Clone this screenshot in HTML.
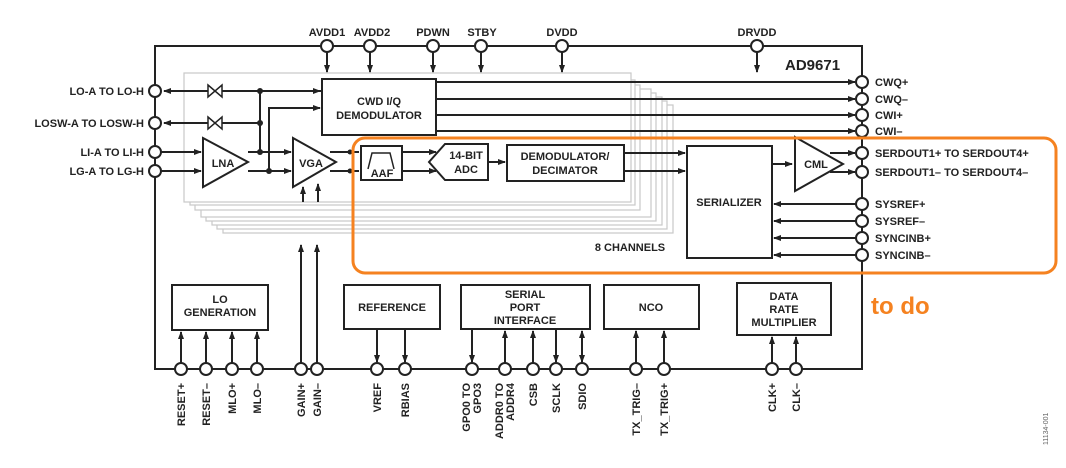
<!DOCTYPE html>
<html><head><meta charset="utf-8"><style>
html,body{margin:0;padding:0;background:#fff;}
svg{display:block;}
text{font-family:"Liberation Sans",Arial,sans-serif;font-weight:bold;font-size:11px;fill:#222;}
</style></head><body>
<svg width="1066" height="468" viewBox="0 0 1066 468" xmlns="http://www.w3.org/2000/svg">
<defs>
<marker id="a" markerWidth="8" markerHeight="6" refX="7" refY="3" orient="auto" markerUnits="userSpaceOnUse"><path d="M0,0 L8,3 L0,6 z" fill="#222"/></marker>
</defs>
<!-- stacked channel boxes -->
<g fill="#fff" stroke="#c8c8c8" stroke-width="1.2">
<rect x="223" y="105" width="450" height="128"/>
<rect x="217" y="101" width="450" height="128"/>
<rect x="212" y="97" width="450" height="128"/>
<rect x="206" y="93" width="450" height="128"/>
<rect x="201" y="89" width="450" height="128"/>
<rect x="195" y="85" width="445" height="125"/>
<rect x="190" y="80" width="445" height="125"/>
<rect x="184" y="73" width="447" height="129"/>
</g>
<g stroke="#222" stroke-width="2" fill="none">
<!-- outer -->
<polyline points="862,175 862,46 155,46 155,369 862,369 862,258"/>
<line x1="862" y1="175" x2="862" y2="258"/>
</g>
<!-- top pins -->
<g stroke="#222" stroke-width="2">
<line x1="327" y1="52" x2="327" y2="72" marker-end="url(#a)"/>
<line x1="370" y1="52" x2="370" y2="72" marker-end="url(#a)"/>
<line x1="433" y1="52" x2="433" y2="72" marker-end="url(#a)"/>
<line x1="481" y1="52" x2="481" y2="72" marker-end="url(#a)"/>
<line x1="562" y1="52" x2="562" y2="72" marker-end="url(#a)"/>
<line x1="757" y1="52" x2="757" y2="72" marker-end="url(#a)"/>
</g>
<text x="327" y="36" text-anchor="middle">AVDD1</text>
<text x="372" y="36" text-anchor="middle">AVDD2</text>
<text x="433" y="36" text-anchor="middle">PDWN</text>
<text x="482" y="36" text-anchor="middle">STBY</text>
<text x="562" y="36" text-anchor="middle">DVDD</text>
<text x="757" y="36" text-anchor="middle">DRVDD</text>
<text x="785" y="70" style="font-size:15px">AD9671</text>
<!-- left signals -->
<g stroke="#222" stroke-width="2" fill="none">
<line x1="322" y1="91" x2="164" y2="91" marker-end="url(#a)"/>
<line x1="260" y1="123" x2="164" y2="123" marker-end="url(#a)"/>
<line x1="260" y1="91" x2="260" y2="152"/>
<line x1="261" y1="91" x2="320" y2="91" marker-end="url(#a)"/>
<polyline points="269,171 269,108 320,108" marker-end="url(#a)"/>
<line x1="161" y1="152" x2="201" y2="152" marker-end="url(#a)"/>
<line x1="161" y1="171" x2="201" y2="171" marker-end="url(#a)"/>
<line x1="248" y1="152" x2="291" y2="152" marker-end="url(#a)"/>
<line x1="248" y1="171" x2="291" y2="171" marker-end="url(#a)"/>
<line x1="330" y1="152" x2="359" y2="152"/>
<line x1="330" y1="171" x2="359" y2="171"/>
<line x1="402" y1="152" x2="436" y2="152" marker-end="url(#a)"/>
<line x1="402" y1="171" x2="436" y2="171" marker-end="url(#a)"/>
<line x1="488" y1="162" x2="505" y2="162" marker-end="url(#a)"/>
<line x1="624" y1="153" x2="685" y2="153" marker-end="url(#a)"/>
<line x1="624" y1="171" x2="685" y2="171" marker-end="url(#a)"/>
<line x1="772" y1="164" x2="792" y2="164" marker-end="url(#a)"/>
<line x1="830" y1="153" x2="855" y2="153" marker-end="url(#a)"/>
<line x1="830" y1="172" x2="855" y2="172" marker-end="url(#a)"/>
<line x1="436" y1="82" x2="855" y2="82" marker-end="url(#a)"/>
<line x1="436" y1="99" x2="855" y2="99" marker-end="url(#a)"/>
<line x1="436" y1="115" x2="855" y2="115" marker-end="url(#a)"/>
<line x1="436" y1="131" x2="855" y2="131" marker-end="url(#a)"/>
<line x1="856" y1="204" x2="774" y2="204" marker-end="url(#a)"/>
<line x1="856" y1="221" x2="774" y2="221" marker-end="url(#a)"/>
<line x1="856" y1="238" x2="774" y2="238" marker-end="url(#a)"/>
<line x1="856" y1="255" x2="774" y2="255" marker-end="url(#a)"/>
<!-- gain lines -->
<line x1="301" y1="369" x2="301" y2="245" marker-end="url(#a)"/>
<line x1="317" y1="369" x2="317" y2="245" marker-end="url(#a)"/>
<line x1="303" y1="202" x2="303" y2="187" marker-end="url(#a)"/>
<line x1="318" y1="202" x2="318" y2="184" marker-end="url(#a)"/>
</g>
<g fill="#222"><circle cx="260" cy="91" r="3"/><circle cx="260" cy="123" r="3"/><circle cx="260" cy="152" r="3"/><circle cx="269" cy="171" r="3"/><circle cx="350" cy="152" r="2.5"/><circle cx="350" cy="171" r="2.5"/></g>
<!-- bowties -->
<g stroke="#222" stroke-width="1.5" fill="#fff">
<path d="M208,85 L222,97 L222,85 L208,97 z"/>
<path d="M208,117 L222,129 L222,117 L208,129 z"/>
</g>
<!-- blocks -->
<g stroke="#222" stroke-width="2" fill="#fff">
<rect x="322" y="79" width="114" height="56"/>
<polygon points="203,138 248,162 203,187"/>
<polygon points="293,138 336,162 293,187"/>
<rect x="361" y="146" width="41" height="34"/>
<polygon points="429,162 445,144 488,144 488,180 445,180"/>
<rect x="507" y="145" width="117" height="36"/>
<rect x="687" y="146" width="85" height="112"/>
<polygon points="795,137 843,164 795,191"/>
<rect x="172" y="285" width="96" height="45"/>
<rect x="344" y="285" width="96" height="44"/>
<rect x="461" y="285" width="129" height="44"/>
<rect x="604" y="285" width="95" height="44"/>
<rect x="737" y="283" width="94" height="52"/>
</g>
<path d="M368,169 L372,153 L390,153 L394,169" stroke="#222" stroke-width="1.5" fill="none"/>
<text x="379" y="60" text-anchor="middle" dy="0"> </text>
<text x="379" y="105" text-anchor="middle">CWD I/Q</text>
<text x="379" y="119" text-anchor="middle">DEMODULATOR</text>
<text x="223" y="167" text-anchor="middle">LNA</text>
<text x="311" y="167" text-anchor="middle">VGA</text>
<text x="382" y="177" text-anchor="middle">AAF</text>
<text x="466" y="159" text-anchor="middle">14-BIT</text>
<text x="466" y="173" text-anchor="middle">ADC</text>
<text x="565" y="160" text-anchor="middle">DEMODULATOR/</text>
<text x="565" y="174" text-anchor="middle">DECIMATOR</text>
<text x="729" y="206" text-anchor="middle">SERIALIZER</text>
<text x="816" y="168" text-anchor="middle">CML</text>
<text x="630" y="251" text-anchor="middle">8 CHANNELS</text>
<text x="220" y="303" text-anchor="middle">LO</text>
<text x="220" y="316" text-anchor="middle">GENERATION</text>
<text x="392" y="311" text-anchor="middle">REFERENCE</text>
<text x="525" y="298" text-anchor="middle">SERIAL</text>
<text x="525" y="311" text-anchor="middle">PORT</text>
<text x="525" y="324" text-anchor="middle">INTERFACE</text>
<text x="651" y="311" text-anchor="middle">NCO</text>
<text x="784" y="300" text-anchor="middle">DATA</text>
<text x="784" y="313" text-anchor="middle">RATE</text>
<text x="784" y="326" text-anchor="middle">MULTIPLIER</text>
<!-- left labels -->
<text x="144" y="95" text-anchor="end">LO-A TO LO-H</text>
<text x="144" y="127" text-anchor="end">LOSW-A TO LOSW-H</text>
<text x="144" y="156" text-anchor="end">LI-A TO LI-H</text>
<text x="144" y="175" text-anchor="end">LG-A  TO LG-H</text>
<!-- right labels -->
<text x="875" y="86">CWQ+</text>
<text x="875" y="103">CWQ–</text>
<text x="875" y="119">CWI+</text>
<text x="875" y="135">CWI–</text>
<text x="875" y="157">SERDOUT1+ TO SERDOUT4+</text>
<text x="875" y="176">SERDOUT1– TO SERDOUT4–</text>
<text x="875" y="208">SYSREF+</text>
<text x="875" y="225">SYSREF–</text>
<text x="875" y="242">SYNCINB+</text>
<text x="875" y="259">SYNCINB–</text>
<!-- bottom arrows -->
<g stroke="#222" stroke-width="2">
<line x1="181" y1="363" x2="181" y2="332" marker-end="url(#a)"/>
<line x1="206" y1="363" x2="206" y2="332" marker-end="url(#a)"/>
<line x1="232" y1="363" x2="232" y2="332" marker-end="url(#a)"/>
<line x1="257" y1="363" x2="257" y2="332" marker-end="url(#a)"/>
<line x1="377" y1="329" x2="377" y2="362" marker-end="url(#a)"/>
<line x1="405" y1="329" x2="405" y2="362" marker-end="url(#a)"/>
<line x1="472" y1="329" x2="472" y2="362" marker-end="url(#a)"/>
<line x1="505" y1="363" x2="505" y2="331" marker-end="url(#a)"/>
<line x1="533" y1="363" x2="533" y2="331" marker-end="url(#a)"/>
<line x1="556" y1="329" x2="556" y2="362" marker-end="url(#a)"/>
<line x1="582" y1="346" x2="582" y2="362" marker-end="url(#a)"/>
<line x1="582" y1="346" x2="582" y2="331" marker-end="url(#a)"/>
<line x1="636" y1="363" x2="636" y2="331" marker-end="url(#a)"/>
<line x1="664" y1="363" x2="664" y2="331" marker-end="url(#a)"/>
<line x1="772" y1="363" x2="772" y2="337" marker-end="url(#a)"/>
<line x1="796" y1="363" x2="796" y2="337" marker-end="url(#a)"/>
</g>
<!-- pin circles -->
<g stroke="#222" stroke-width="2" fill="#fff">
<circle cx="327" cy="46" r="6"/><circle cx="370" cy="46" r="6"/><circle cx="433" cy="46" r="6"/><circle cx="481" cy="46" r="6"/><circle cx="562" cy="46" r="6"/><circle cx="757" cy="46" r="6"/>
<circle cx="155" cy="91" r="6"/><circle cx="155" cy="123" r="6"/><circle cx="155" cy="152" r="6"/><circle cx="155" cy="171" r="6"/>
<circle cx="862" cy="82" r="6"/><circle cx="862" cy="99" r="6"/><circle cx="862" cy="115" r="6"/><circle cx="862" cy="131" r="6"/><circle cx="862" cy="153" r="6"/><circle cx="862" cy="172" r="6"/><circle cx="862" cy="204" r="6"/><circle cx="862" cy="221" r="6"/><circle cx="862" cy="238" r="6"/><circle cx="862" cy="255" r="6"/>
<circle cx="181" cy="369" r="6"/><circle cx="206" cy="369" r="6"/><circle cx="232" cy="369" r="6"/><circle cx="257" cy="369" r="6"/><circle cx="301" cy="369" r="6"/><circle cx="317" cy="369" r="6"/><circle cx="377" cy="369" r="6"/><circle cx="405" cy="369" r="6"/><circle cx="472" cy="369" r="6"/><circle cx="505" cy="369" r="6"/><circle cx="533" cy="369" r="6"/><circle cx="556" cy="369" r="6"/><circle cx="582" cy="369" r="6"/><circle cx="636" cy="369" r="6"/><circle cx="664" cy="369" r="6"/><circle cx="772" cy="369" r="6"/><circle cx="796" cy="369" r="6"/>
</g>
<!-- bottom labels -->
<g>
<text transform="translate(185,383) rotate(-90)" text-anchor="end">RESET+</text>
<text transform="translate(210,383) rotate(-90)" text-anchor="end">RESET–</text>
<text transform="translate(236,383) rotate(-90)" text-anchor="end">MLO+</text>
<text transform="translate(261,383) rotate(-90)" text-anchor="end">MLO–</text>
<text transform="translate(305,383) rotate(-90)" text-anchor="end">GAIN+</text>
<text transform="translate(321,383) rotate(-90)" text-anchor="end">GAIN–</text>
<text transform="translate(381,383) rotate(-90)" text-anchor="end">VREF</text>
<text transform="translate(409,383) rotate(-90)" text-anchor="end">RBIAS</text>
<text transform="translate(470,383) rotate(-90)" text-anchor="end">GPO0 TO</text>
<text transform="translate(481,383) rotate(-90)" text-anchor="end">GPO3</text>
<text transform="translate(503,383) rotate(-90)" text-anchor="end">ADDR0 TO</text>
<text transform="translate(514,383) rotate(-90)" text-anchor="end">ADDR4</text>
<text transform="translate(537,383) rotate(-90)" text-anchor="end">CSB</text>
<text transform="translate(560,383) rotate(-90)" text-anchor="end">SCLK</text>
<text transform="translate(586,383) rotate(-90)" text-anchor="end">SDIO</text>
<text transform="translate(640,383) rotate(-90)" text-anchor="end">TX_TRIG–</text>
<text transform="translate(668,383) rotate(-90)" text-anchor="end">TX_TRIG+</text>
<text transform="translate(776,383) rotate(-90)" text-anchor="end">CLK+</text>
<text transform="translate(800,383) rotate(-90)" text-anchor="end">CLK–</text>
<text transform="translate(1048,445) rotate(-90)" style="font-size:7px;font-weight:normal;fill:#666">11134-001</text>
</g>
<!-- orange highlight -->
<rect x="353" y="138" width="703" height="135" rx="12" ry="12" fill="none" stroke="#f58220" stroke-width="3"/>
<text x="871" y="314" style="font-size:24px;fill:#f58220">to do</text>
</svg>
</body></html>
